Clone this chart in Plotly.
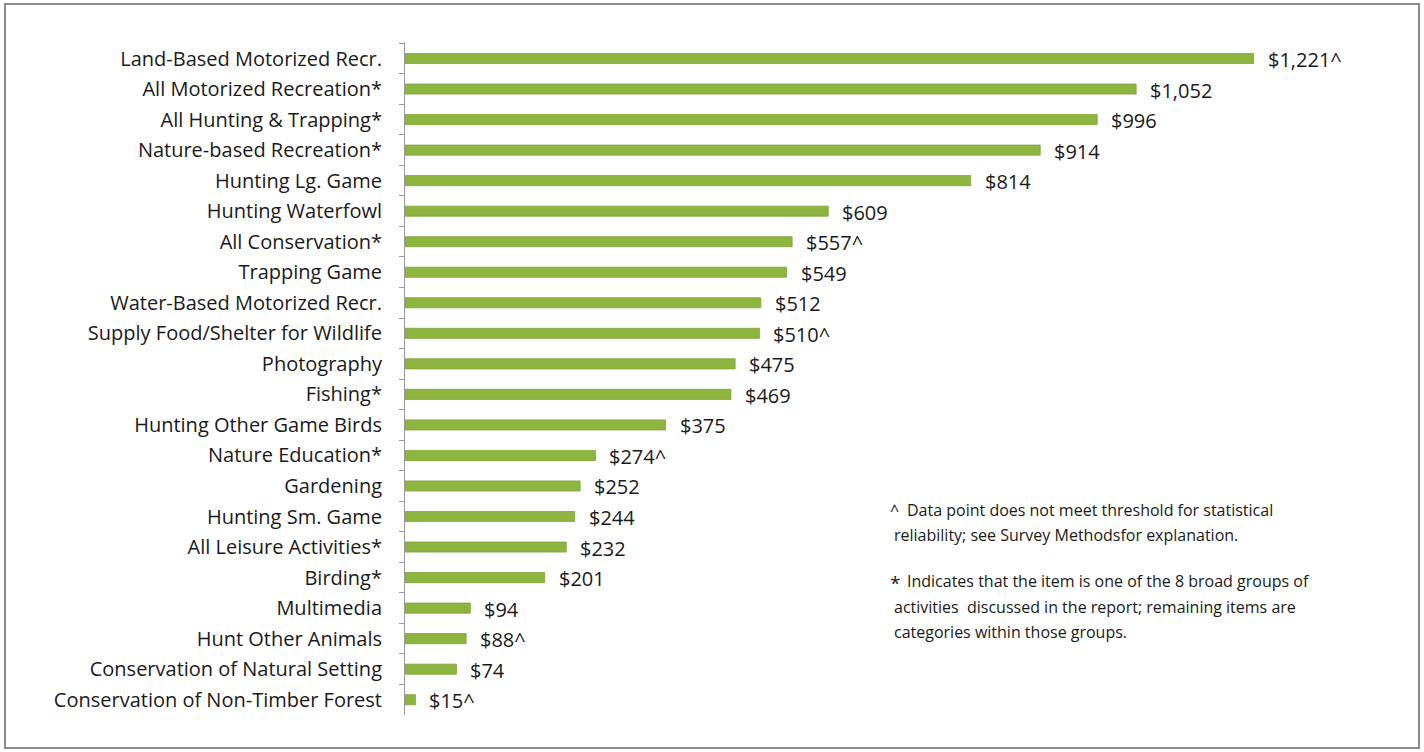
import plotly.graph_objects as go

# Average annual spending per participant, by activity (top to bottom)
categories = [
    "Land-Based Motorized Recr.",
    "All Motorized Recreation*",
    "All Hunting & Trapping*",
    "Nature-based Recreation*",
    "Hunting Lg. Game",
    "Hunting Waterfowl",
    "All Conservation*",
    "Trapping Game",
    "Water-Based Motorized Recr.",
    "Supply Food/Shelter for Wildlife",
    "Photography",
    "Fishing*",
    "Hunting Other Game Birds",
    "Nature Education*",
    "Gardening",
    "Hunting Sm. Game",
    "All Leisure Activities*",
    "Birding*",
    "Multimedia",
    "Hunt Other Animals",
    "Conservation of Natural Setting",
    "Conservation of Non-Timber Forest",
]
values = [1221, 1052, 996, 914, 814, 609, 557, 549, 512, 510, 475, 469,
          375, 274, 252, 244, 232, 201, 94, 88, 74, 15]
# "^" marks values below the reliability threshold
unreliable = [True, False, False, False, False, False, True, False, False, True,
              False, False, False, True, False, False, False, False, False, True,
              False, True]

labels = [f"${v:,}" + ("^" if u else "") for v, u in zip(values, unreliable)]

W, H = 1424, 752
L, R, T, B = 405, 46, 42, 37
FONT = "Open Sans"
INK = "#1a1a1a"

fig = go.Figure()
fig.add_trace(go.Bar(
    x=values,
    y=categories,
    orientation="h",
    marker=dict(color="#8db53f", line=dict(color="#7fa535", width=0.8)),
    width=0.33,
    showlegend=False,
    hoverinfo="x+y",
))

# value labels to the right of each bar
for cat, v, lab in zip(categories, values, labels):
    fig.add_annotation(
        x=v, y=cat, text=lab, showarrow=False,
        xanchor="left", yanchor="middle", xshift=12, yshift=-1,
        font=dict(family=FONT, size=20, color=INK),
    )

pw = W - L - R
ph = H - T - B


def px(x):
    return (x - L) / pw


def py(y):
    return 1 - (y - T) / ph


# footnotes
notes = [
    (888, 510, "^", 16),
    (905, 510, "Data point does not meet threshold for statistical", 16),
    (892, 535, "reliability; see Survey Methodsfor explanation.", 16),
    (888, 583, "*", 19),
    (905, 581, "Indicates that the item is one of the 8 broad groups of", 16),
    (892, 607, "activities  discussed in the report; remaining items are", 16),
    (892, 632, "categories within those groups.", 16),
]
for x0, y0, txt, sz in notes:
    fig.add_annotation(
        xref="paper", yref="paper", x=px(x0), y=py(y0), text=txt,
        showarrow=False, xanchor="left", yanchor="middle",
        font=dict(family=FONT, size=sz, color=INK),
    )

# outer frame
fig.add_shape(
    type="rect", xref="paper", yref="paper",
    x0=px(5), x1=px(1419), y0=py(4), y1=py(748),
    line=dict(color="#8a8a8a", width=2), fillcolor="rgba(0,0,0,0)",
    layer="below",
)

fig.update_layout(
    width=W, height=H,
    margin=dict(l=L, r=R, t=T, b=B, autoexpand=False),
    paper_bgcolor="white",
    plot_bgcolor="white",
    font=dict(family=FONT, size=20, color=INK),
    bargap=0.67,
)
fig.update_xaxes(
    range=[0, 1400], visible=False, showgrid=False, zeroline=False,
)
fig.update_yaxes(
    autorange="reversed",
    showline=True, linecolor="#9a9aa6", linewidth=1,
    ticks="outside", ticklen=5, tickcolor="#9a9aa6", tickson="boundaries",
    showgrid=False, ticklabelstandoff=18,
    tickfont=dict(family=FONT, size=20, color=INK),
)

fig.write_html("out.html")
